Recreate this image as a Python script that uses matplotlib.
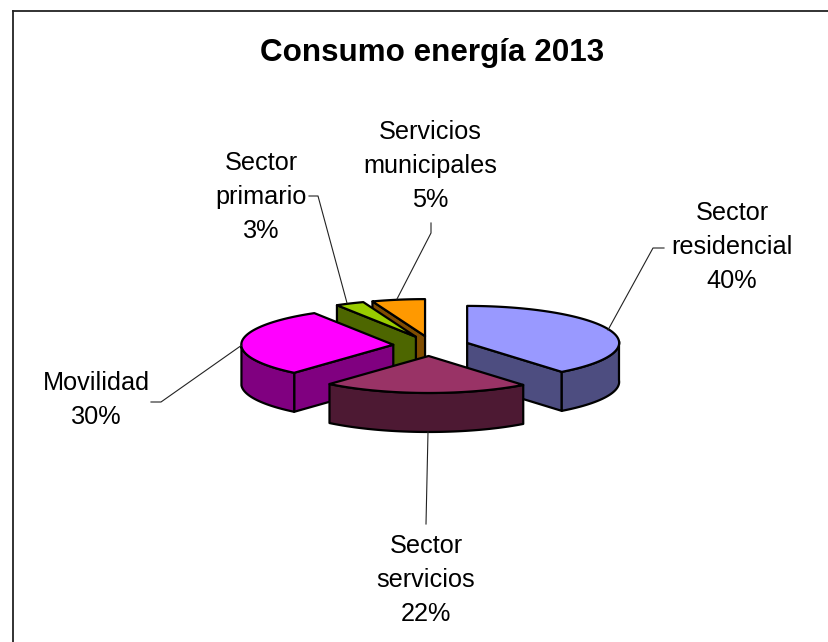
import numpy as np
import matplotlib
matplotlib.use("Agg")
import matplotlib.pyplot as plt
from matplotlib.patches import Polygon

# Energy use by sector, percent of total, clockwise from twelve o'clock
labels = ["Sector residencial", "Sector servicios", "Movilidad",
          "Sector primario", "Servicios municipales"]
shares = [40, 22, 30, 3, 5]
top_colors = ["#9999FF", "#993366", "#FF00FF", "#99CC00", "#FF9900"]
side_colors = ["#4D4D80", "#4D1933", "#800080", "#4D6600", "#804D00"]

# Pie geometry in pixels
CX, CY = 431, 346
RX, RY = 152, 37
EXPLODE_X, EXPLODE_Y = 38, 10
DEPTH = 39
TILT = 2.5  # apparent turn of the rim under perspective, degrees
OUTLINE = 1.6

plt.rcParams["font.family"] = ["Liberation Sans", "DejaVu Sans"]

fig = plt.figure(figsize=(8.29, 6.42), dpi=100)
ax = fig.add_axes([0, 0, 1, 1])
ax.set_xlim(0, 829)
ax.set_ylim(642, 0)
ax.axis("off")


def rim(apex, a0, a1):
    """Points along the top rim between two clockwise angles (degrees)."""
    a = np.linspace(a0, a1, max(2, int(abs(a1 - a0)) + 1))
    # the twelve o'clock edge stays vertical, the rest of the rim turns slightly
    a = a - TILT * np.clip(np.minimum(a, 360 - a) / 20, 0, 1)
    t = np.radians(a)
    return np.column_stack([apex[0] + RX * np.sin(t), apex[1] - RY * np.cos(t)])


def add_face(points, color, order):
    ax.add_patch(Polygon(points, closed=True, facecolor=color, edgecolor="black",
                         linewidth=OUTLINE, joinstyle="round", zorder=order))


def draw_wedge(start, end, top, side, order):
    mid = np.radians((start + end) / 2)
    apex = np.array([CX + EXPLODE_X * np.sin(mid), CY - EXPLODE_Y * np.cos(mid)])
    down = np.array([0, DEPTH])

    # cut faces seen from the front hang below the edge of the slice
    if 180 < start < 360:
        edge = rim(apex, start, start)[0]
        add_face([apex, edge, edge + down, apex + down], side, order)
    if 0 < end < 180:
        edge = rim(apex, end, end)[0]
        add_face([apex, edge, edge + down, apex + down], side, order)

    # only the near half of the outer wall is visible
    lo, hi = max(start, 90), min(end, 270)
    if lo < hi:
        arc = rim(apex, lo, hi)
        add_face(np.vstack([arc, (arc + down)[::-1]]), side, order + 0.1)

    add_face(np.vstack([[apex], rim(apex, start, end)]), top, order + 0.2)


# Slices are painted from the back of the pie to the front
bounds = np.cumsum([0] + shares) * 3.6
for i, order in zip([4, 3, 2, 0, 1], range(1, 6)):
    draw_wedge(bounds[i], bounds[i + 1], top_colors[i], side_colors[i], order)

# Outer frame, top and left sides only
ax.plot([13, 829], [10.5, 10.5], color="#222222", lw=1.3)
ax.plot([13, 13], [10.5, 642], color="#222222", lw=1.3)

ax.text(432, 61, "Consumo energía 2013", ha="center", va="baseline",
        fontsize=22.6, fontweight="bold", color="black")

# Centre x and first baseline of each label, then its leader line
label_x = [732, 426, 96, 261, 430]
label_y = [220, 553, 390, 170, 139]
leaders = [
    ([608, 653, 664], [330, 248, 248]),
    ([428, 426], [432, 524]),
    ([242, 161, 151], [345, 402, 402]),
    ([347, 318, 309], [303, 196, 196]),
    ([397, 431, 431], [299, 233, 223]),
]
LINE_PITCH = 34

for name, share, x, y, (lx, ly) in zip(labels, shares, label_x, label_y, leaders):
    lines = name.split() + [f"{share}%"]
    for n, line in enumerate(lines):
        ax.text(x, y + n * LINE_PITCH, line, ha="center", va="baseline",
                fontsize=18.2, color="black")
    ax.plot(lx, ly, color="#222222", lw=0.8, zorder=8)

fig.savefig("out.png", dpi=100)
plt.close(fig)
